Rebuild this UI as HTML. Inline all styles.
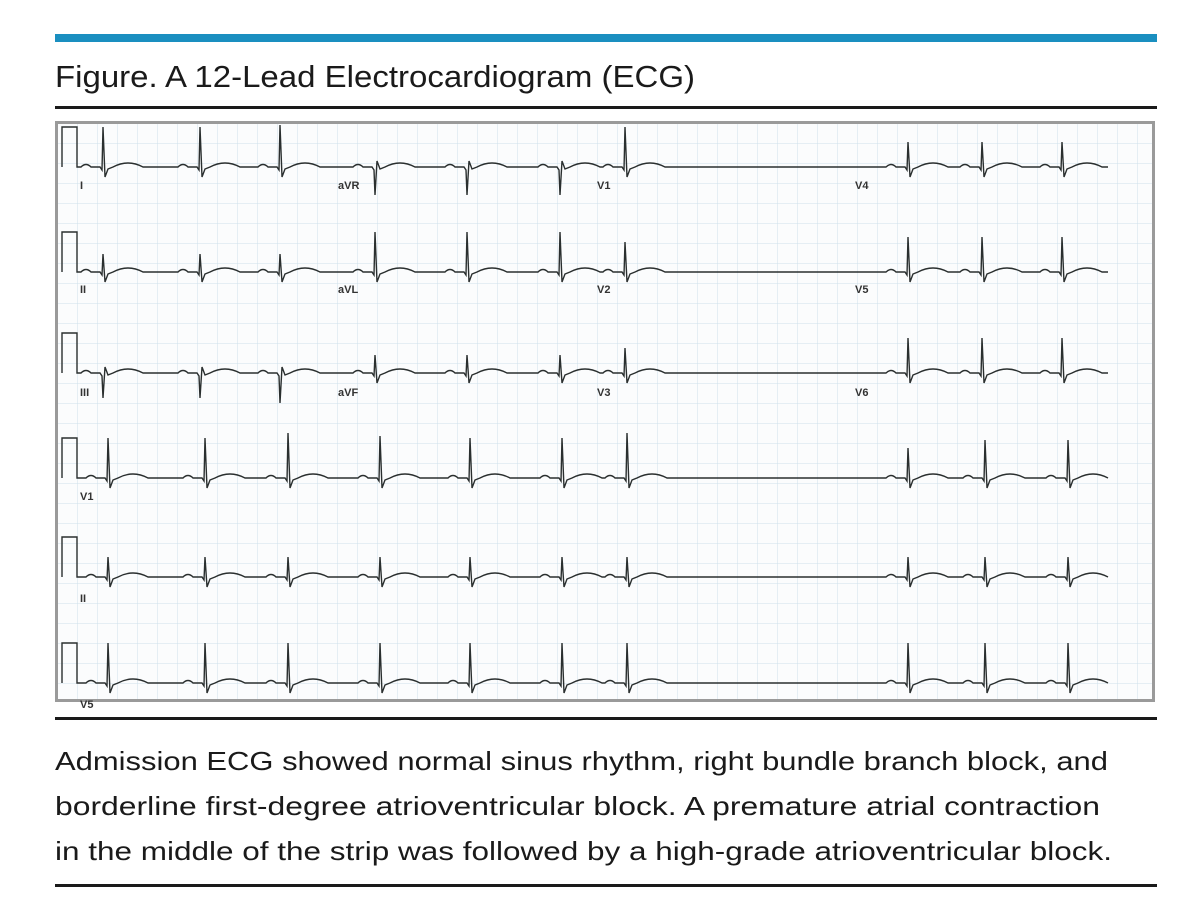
<!DOCTYPE html>
<html><head><meta charset="utf-8"><style>
html,body{margin:0;padding:0;background:#fff;}
svg{display:block;}
</style></head><body>
<svg id="s" width="1199" height="911" xmlns="http://www.w3.org/2000/svg" font-family="Liberation Sans, sans-serif">
<rect x="55" y="34" width="1102" height="8" fill="#1a8fc0"/>
<text x="55" y="87" font-size="31" fill="#1a1a1a" textLength="640" lengthAdjust="spacingAndGlyphs">Figure. A 12-Lead Electrocardiogram (ECG)</text>
<rect x="55" y="106" width="1102" height="3" fill="#1a1a1a"/>
<defs>
<pattern id="g" x="57" y="123" width="20" height="20" patternUnits="userSpaceOnUse">
<path d="M0 0H20M0 0V20" stroke="#cfe0ea" stroke-width="1" fill="none"/>
</pattern>
</defs>
<rect x="56.5" y="122.5" width="1097" height="578" fill="#fbfcfd" stroke="#9a9a9a" stroke-width="3"/>
<rect x="58" y="124" width="1094" height="575" fill="url(#g)"/>
<g id="ecg" stroke="#2a2f2f" stroke-width="1.4" fill="none"></g>
<g font-size="11" font-weight="bold" fill="#333">
<text x="80" y="189">I</text><text x="338" y="189">aVR</text><text x="597" y="189">V1</text><text x="855" y="189">V4</text>
<text x="80" y="293">II</text><text x="338" y="293">aVL</text><text x="597" y="293">V2</text><text x="855" y="293">V5</text>
<text x="80" y="396">III</text><text x="338" y="396">aVF</text><text x="597" y="396">V3</text><text x="855" y="396">V6</text>
<text x="80" y="500">V1</text>
<text x="80" y="602">II</text>
<text x="80" y="708">V5</text>
</g>
<rect x="55" y="717" width="1102" height="3" fill="#1a1a1a"/>
<g font-size="26" fill="#1a1a1a">
<text x="55" y="770" textLength="1053" lengthAdjust="spacingAndGlyphs">Admission ECG showed normal sinus rhythm, right bundle branch block, and</text>
<text x="55" y="815" textLength="1045" lengthAdjust="spacingAndGlyphs">borderline first-degree atrioventricular block. A premature atrial contraction</text>
<text x="55" y="860" textLength="1057" lengthAdjust="spacingAndGlyphs">in the middle of the strip was followed by a high-grade atrioventricular block.</text>
</g>
<rect x="55" y="884" width="1102" height="3" fill="#1a1a1a"/>
</svg>
<script>
var g=document.getElementById('ecg');
var rows=[
 {y:167,b:[103,200,280,375,467,560,625,908,982,1062],amp:[40,40,42,-28,-28,-28,40,25,25,25]},
 {y:272,b:[103,200,280,375,467,560,625,908,982,1062],amp:[18,18,18,40,40,40,30,35,35,35]},
 {y:373,b:[103,200,280,375,467,560,625,908,982,1062],amp:[-25,-25,-30,18,18,18,25,35,35,35]},
 {y:478,b:[108,205,288,380,470,562,627,908,985,1068],amp:[40,40,45,42,40,40,45,30,38,38]},
 {y:577,b:[108,205,288,380,470,562,627,908,985,1068],amp:[20,20,20,20,20,20,20,20,20,20]},
 {y:683,b:[108,205,288,380,470,562,627,908,985,1068],amp:[40,40,40,40,40,40,40,40,40,40]}
];
rows.forEach(function(r){
 var y=r.y, d='M62 '+y+' V'+(y-40)+' H77 V'+y;
 var x=77;
 r.b.forEach(function(bx,i){
  var a=r.amp[i];
  d+=' L'+(bx-22)+' '+y+' Q'+(bx-17)+' '+(y-5)+' '+(bx-12)+' '+y+' L'+(bx-3)+' '+y;
  d+=' L'+(bx-1)+' '+(y+3)+' L'+bx+' '+(y-a)+' L'+(bx+2)+' '+(y+(a>0?10:-6))+' L'+(bx+5)+' '+(y+2)+' L'+(bx+10)+' '+y;
  d+=' Q'+(bx+25)+' '+(y-8)+' '+(bx+40)+' '+y;
 });
 d+=' L1108 '+y;
 var p=document.createElementNS('http://www.w3.org/2000/svg','path');
 p.setAttribute('d',d);g.appendChild(p);
});
</script>
</body></html>
